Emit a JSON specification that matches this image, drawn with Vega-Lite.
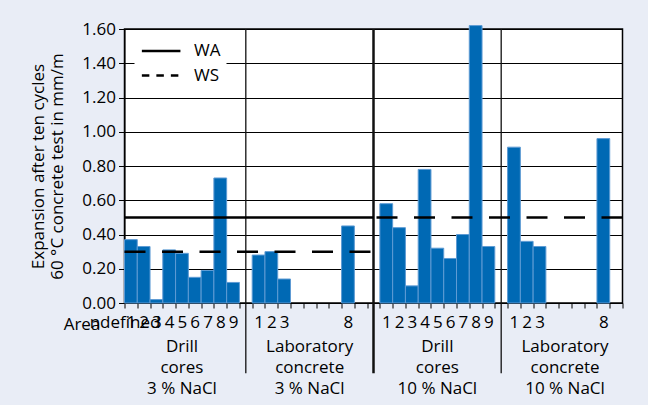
{
  "$schema": "https://vega.github.io/schema/vega-lite/v6.json",
  "width": 498,
  "height": 274,
  "autosize": {"type": "none"},
  "padding": {"left": 124.5, "top": 29, "right": 25.5, "bottom": 102},
  "background": "#e9edf6",
  "config": {
    "font": "Open Sans",
    "view": {"fill": "white", "stroke": "black", "strokeWidth": 1.5},
    "axis": {"labelColor": "black", "titleColor": "black", "domainColor": "black", "tickColor": "black", "labelFontSize": 17, "titleFontWeight": "normal", "labelOverlap": false},
    "axisY": {"gridColor": "black", "gridWidth": 1, "gridOpacity": 1, "tickSize": 6, "labelPadding": 3, "titleFontSize": 17, "titleLineHeight": 19, "titlePadding": 15, "tickCount": 10, "format": ".2f"},
    "axisX": {"tickSize": 5, "labelAngle": 0, "labelPadding": 6, "tickBand": "extent", "grid": false, "titleX": -43, "titleY": 21, "titleAngle": 0, "titleAlign": "center", "titleBaseline": "middle", "titleFontSize": 17}
  },
  "layer": [
    {
      "data": {"values": [
        {"group": "Drill cores 3 % NaCl", "area": "1", "slot": "a1", "expansion": 0.37},
        {"group": "Drill cores 3 % NaCl", "area": "2", "slot": "a2", "expansion": 0.33},
        {"group": "Drill cores 3 % NaCl", "area": "3", "slot": "a3", "expansion": 0.02},
        {"group": "Drill cores 3 % NaCl", "area": "4", "slot": "a4", "expansion": 0.31},
        {"group": "Drill cores 3 % NaCl", "area": "5", "slot": "a5", "expansion": 0.29},
        {"group": "Drill cores 3 % NaCl", "area": "6", "slot": "a6", "expansion": 0.15},
        {"group": "Drill cores 3 % NaCl", "area": "7", "slot": "a7", "expansion": 0.19},
        {"group": "Drill cores 3 % NaCl", "area": "8", "slot": "a8", "expansion": 0.73},
        {"group": "Drill cores 3 % NaCl", "area": "9", "slot": "a9", "expansion": 0.12},
        {"group": "Laboratory concrete 3 % NaCl", "area": "1", "slot": "b1", "expansion": 0.28},
        {"group": "Laboratory concrete 3 % NaCl", "area": "2", "slot": "b2", "expansion": 0.30},
        {"group": "Laboratory concrete 3 % NaCl", "area": "3", "slot": "b3", "expansion": 0.14},
        {"group": "Laboratory concrete 3 % NaCl", "area": "8", "slot": "b8", "expansion": 0.45},
        {"group": "Drill cores 10 % NaCl", "area": "1", "slot": "c1", "expansion": 0.58},
        {"group": "Drill cores 10 % NaCl", "area": "2", "slot": "c2", "expansion": 0.44},
        {"group": "Drill cores 10 % NaCl", "area": "3", "slot": "c3", "expansion": 0.10},
        {"group": "Drill cores 10 % NaCl", "area": "4", "slot": "c4", "expansion": 0.78},
        {"group": "Drill cores 10 % NaCl", "area": "5", "slot": "c5", "expansion": 0.32},
        {"group": "Drill cores 10 % NaCl", "area": "6", "slot": "c6", "expansion": 0.26},
        {"group": "Drill cores 10 % NaCl", "area": "7", "slot": "c7", "expansion": 0.40},
        {"group": "Drill cores 10 % NaCl", "area": "8", "slot": "c8", "expansion": 1.62},
        {"group": "Drill cores 10 % NaCl", "area": "9", "slot": "c9", "expansion": 0.33},
        {"group": "Laboratory concrete 10 % NaCl", "area": "1", "slot": "d1", "expansion": 0.91},
        {"group": "Laboratory concrete 10 % NaCl", "area": "2", "slot": "d2", "expansion": 0.36},
        {"group": "Laboratory concrete 10 % NaCl", "area": "3", "slot": "d3", "expansion": 0.33},
        {"group": "Laboratory concrete 10 % NaCl", "area": "8", "slot": "d8", "expansion": 0.96}
      ]},
      "mark": {"type": "bar", "color": "#0069b4", "stroke": "#5e9bd4", "strokeWidth": 1},
      "encoding": {
        "x": {
          "field": "slot", "type": "nominal",
          "scale": {
            "domain": ["a1","a2","a3","a4","a5","a6","a7","a8","a9","s1","b1","b2","b3","b4","b5","b6","b7","b8","b9","s2","c1","c2","c3","c4","c5","c6","c7","c8","c9","s3","d1","d2","d3","d4","d5","d6","d7","d8","d9"],
            "paddingInner": 0, "paddingOuter": 0
          },
          "axis": {"title": "Area", "labelOverlap": false, "labelExpr": "indexof(['b4','b5','b6','b7','b9','d4','d5','d6','d7','d9','s1','s2','s3'], datum.value) >= 0 ? '' : substring(datum.value, 1)"}
        },
        "y": {
          "field": "expansion", "type": "quantitative",
          "scale": {"domain": [0, 1.6], "nice": false},
          "axis": {"values": [0, 0.2, 0.4, 0.6, 0.8, 1.0, 1.2, 1.4, 1.6], "tickCount": 10, "format": ".2f", "labelOverlap": false, "grid": true, "title": ["Expansion after ten cycles", "60 °C concrete test in mm/m"]}
        }
      }
    },
    {
      "data": {"values": [{"slot": "s1"}, {"slot": "s3"}]},
      "mark": {"type": "rule", "color": "#111111", "strokeWidth": 1.3},
      "encoding": {
        "x": {"field": "slot", "type": "nominal", "axis": {"title": "Area", "labelOverlap": false, "labelExpr": "indexof(['b4','b5','b6','b7','b9','d4','d5','d6','d7','d9','s1','s2','s3'], datum.value) >= 0 ? '' : substring(datum.value, 1)"}},
        "y": {"datum": 1.6, "axis": {"values": [0, 0.2, 0.4, 0.6, 0.8, 1.0, 1.2, 1.4, 1.6], "tickCount": 10, "format": ".2f", "labelOverlap": false, "grid": true, "title": ["Expansion after ten cycles", "60 °C concrete test in mm/m"]}},
        "y2": {"datum": -0.41}
      }
    },
    {
      "data": {"values": [{"slot": "s2"}]},
      "mark": {"type": "rule", "color": "#111111", "strokeWidth": 2.5},
      "encoding": {
        "x": {"field": "slot", "type": "nominal", "axis": {"title": "Area", "labelOverlap": false, "labelExpr": "indexof(['b4','b5','b6','b7','b9','d4','d5','d6','d7','d9','s1','s2','s3'], datum.value) >= 0 ? '' : substring(datum.value, 1)"}},
        "y": {"datum": 1.6, "axis": {"values": [0, 0.2, 0.4, 0.6, 0.8, 1.0, 1.2, 1.4, 1.6], "tickCount": 10, "format": ".2f", "labelOverlap": false, "grid": true, "title": ["Expansion after ten cycles", "60 °C concrete test in mm/m"]}},
        "y2": {"datum": -0.41}
      }
    },
    {
      "data": {"values": [
        {"criterion": "WA", "limit": 0.5, "from": "a1", "to": "s2"}
      ]},
      "mark": {"type": "rule", "color": "black", "strokeWidth": 2.5},
      "encoding": {
        "x": {"field": "from", "type": "nominal", "bandPosition": 0, "axis": {"title": "Area", "labelOverlap": false, "labelExpr": "indexof(['b4','b5','b6','b7','b9','d4','d5','d6','d7','d9','s1','s2','s3'], datum.value) >= 0 ? '' : substring(datum.value, 1)"}},
        "x2": {"field": "to"},
        "y": {"field": "limit", "type": "quantitative", "axis": {"values": [0, 0.2, 0.4, 0.6, 0.8, 1.0, 1.2, 1.4, 1.6], "tickCount": 10, "format": ".2f", "labelOverlap": false, "grid": true, "title": ["Expansion after ten cycles", "60 °C concrete test in mm/m"]}},
        "strokeDash": {
          "field": "criterion", "type": "nominal",
          "scale": {"domain": ["WA", "WS"], "range": [[1, 0], [7.5, 7]]},
          "legend": {
            "title": null, "orient": "none", "legendX": 10, "legendY": 5,
            "fillColor": "white", "padding": 6, "strokeColor": null,
            "symbolType": "M-1,0H3", "symbolSize": 372, "symbolStrokeWidth": 2.5, "symbolStrokeColor": "black",
            "labelFontSize": 17, "labelColor": "black", "labelOffset": 31.5, "rowPadding": 5.5
          }
        }
      }
    },
    {
      "data": {"values": [
        {"criterion": "WS", "limit": 0.3, "from": "a1", "to": "s2"}
      ]},
      "mark": {"type": "rule", "color": "black", "strokeWidth": 2.5, "strokeDash": [21, 16.5]},
      "encoding": {
        "x": {"field": "from", "type": "nominal", "bandPosition": 0, "axis": {"title": "Area", "labelOverlap": false, "labelExpr": "indexof(['b4','b5','b6','b7','b9','d4','d5','d6','d7','d9','s1','s2','s3'], datum.value) >= 0 ? '' : substring(datum.value, 1)"}},
        "x2": {"field": "to"},
        "y": {"field": "limit", "type": "quantitative", "axis": {"values": [0, 0.2, 0.4, 0.6, 0.8, 1.0, 1.2, 1.4, 1.6], "tickCount": 10, "format": ".2f", "labelOverlap": false, "grid": true, "title": ["Expansion after ten cycles", "60 °C concrete test in mm/m"]}}
      }
    },
    {
      "data": {"values": [
        {"criterion": "WS", "limit": 0.5, "from": "d9", "to": "s2"}
      ]},
      "mark": {"type": "rule", "color": "black", "strokeWidth": 2.5, "strokeDash": [21, 16.5]},
      "encoding": {
        "x": {"field": "from", "type": "nominal", "bandPosition": 1, "axis": {"title": "Area", "labelOverlap": false, "labelExpr": "indexof(['b4','b5','b6','b7','b9','d4','d5','d6','d7','d9','s1','s2','s3'], datum.value) >= 0 ? '' : substring(datum.value, 1)"}},
        "x2": {"field": "to"},
        "y": {"field": "limit", "type": "quantitative", "axis": {"values": [0, 0.2, 0.4, 0.6, 0.8, 1.0, 1.2, 1.4, 1.6], "tickCount": 10, "format": ".2f", "labelOverlap": false, "grid": true, "title": ["Expansion after ten cycles", "60 °C concrete test in mm/m"]}}
      }
    },
    {
      "data": {"values": [
        {"slot": "a5", "label": "Drill\ncores\n3 % NaCl"},
        {"slot": "b5", "label": "Laboratory\nconcrete\n3 % NaCl"},
        {"slot": "c5", "label": "Drill\ncores\n10 % NaCl"},
        {"slot": "d5", "label": "Laboratory\nconcrete\n10 % NaCl"}
      ]},
      "mark": {"type": "text", "align": "center", "baseline": "top", "lineBreak": "\n", "lineHeight": 21, "fontSize": 17, "color": "black"},
      "encoding": {
        "x": {"field": "slot", "type": "nominal", "axis": {"title": "Area", "labelOverlap": false, "labelExpr": "indexof(['b4','b5','b6','b7','b9','d4','d5','d6','d7','d9','s1','s2','s3'], datum.value) >= 0 ? '' : substring(datum.value, 1)"}},
        "y": {"datum": -0.21, "axis": {"values": [0, 0.2, 0.4, 0.6, 0.8, 1.0, 1.2, 1.4, 1.6], "tickCount": 10, "format": ".2f", "labelOverlap": false, "grid": true, "title": ["Expansion after ten cycles", "60 °C concrete test in mm/m"]}},
        "text": {"field": "label"}
      }
    }
  ]
}
